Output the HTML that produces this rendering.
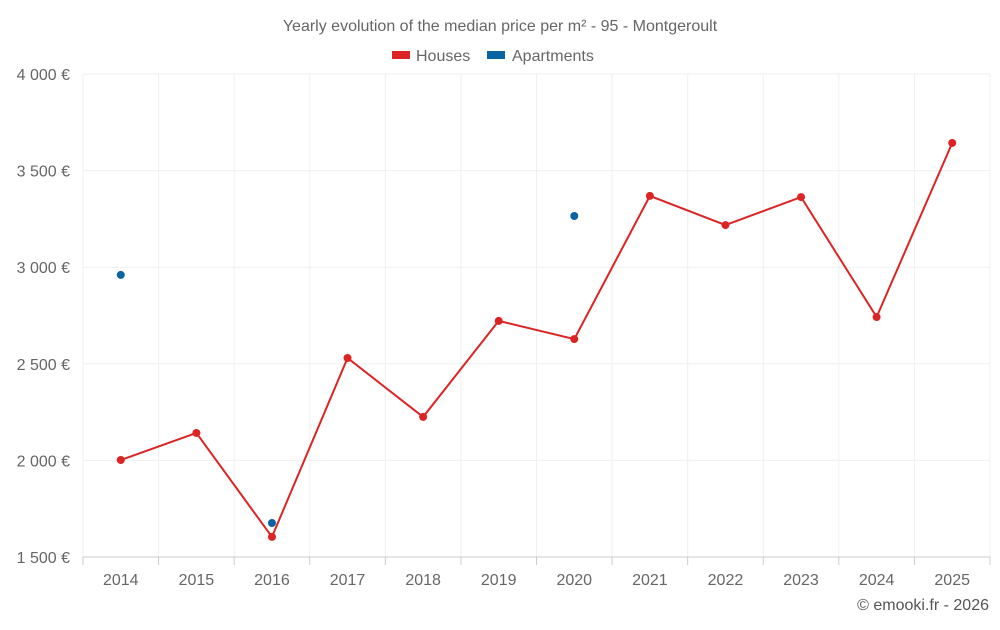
<!DOCTYPE html>
<html><head><meta charset="utf-8"><style>
body{margin:0;background:#fff;font-family:"Liberation Sans",sans-serif;}
svg text{font-family:"Liberation Sans",sans-serif;fill:#666;}
</style></head><body>
<svg id="chart" width="1000" height="625" viewBox="0 0 1000 625" xmlns="http://www.w3.org/2000/svg">
<text x="500" y="31" text-anchor="middle" font-size="16">Yearly evolution of the median price per m² - 95 - Montgeroult</text>
<g><rect x="392" y="51" width="18" height="8" fill="#dc2424"/><text x="416" y="61" font-size="16">Houses</text></g>
<g><rect x="487" y="51" width="18" height="8" fill="#0a64a0"/><text x="512" y="61" font-size="16">Apartments</text></g>
<g id="grid"></g><g id="axes"></g><g id="series"></g>
<text x="989" y="610" text-anchor="end" font-size="16" style="fill:#555">© emooki.fr - 2026</text>
</svg>
<script>
const years=["2014","2015","2016","2017","2018","2019","2020","2021","2022","2023","2024","2025"];
const houses=[2002,2142,1604,2530,2225,2722,2628,3369,3218,3363,2742,3643];
const apartments=[2960,null,1676,null,null,null,3265,null,null,null,null,null];
const yTicks=[1500,2000,2500,3000,3500,4000];
const yLabels=["1 500 €","2 000 €","2 500 €","3 000 €","3 500 €","4 000 €"];
const NS="http://www.w3.org/2000/svg";
const L=83,R=990,T=74,B=557,yMin=1500,yMax=4000;
const step=(R-L)/years.length;
const xs=i=>L+step*(i+0.5);
const ys=v=>B-(v-yMin)/(yMax-yMin)*(B-T);
function mk(tag,attrs,parent){const e=document.createElementNS(NS,tag);for(const k in attrs)e.setAttribute(k,attrs[k]);parent.appendChild(e);return e;}
const grid=document.getElementById('grid'),axes=document.getElementById('axes'),ser=document.getElementById('series');
yTicks.forEach((t,i)=>{
 const l=mk('line',{x1:L,x2:R,y1:ys(t),y2:ys(t),stroke:'#efefef'},grid);
 
 
 const tx=mk('text',{x:70,y:ys(t)+6,'text-anchor':'end','font-size':16},axes);
 tx.textContent=yLabels[i];
 
 
});
for(let i=0;i<=years.length;i++){
 const x=L+step*i;
 const l=mk('line',{x1:x,x2:x,y1:T,y2:B,stroke:'#f0f0f0'},grid);
 
 
 const tk=mk('line',{x1:x,x2:x,y1:B,y2:B+8,stroke:'#ccc'},axes);
 
 
}
const ax=mk('line',{x1:L,x2:R,y1:B,y2:B,stroke:'#ccc'},axes);


years.forEach((y,i)=>{
 const tx=mk('text',{x:xs(i),y:585,'text-anchor':'middle','font-size':16},axes);
 tx.textContent=y;
 
 
});
const pts=houses.map((v,i)=>xs(i)+','+ys(v)).join(' ');
const pl=mk('polyline',{points:pts,fill:'none',stroke:'#dc2424','stroke-width':2},ser);


houses.forEach((v,i)=>{
 const c=mk('circle',{cx:xs(i),cy:ys(v),r:4,fill:'#dc2424'},ser);
 
 
});
apartments.forEach((v,i)=>{
 if(v==null)return;
 const c=mk('circle',{cx:xs(i),cy:ys(v),r:4,fill:'#0a64a0'},ser);
 
 
});
</script>
</body></html>
